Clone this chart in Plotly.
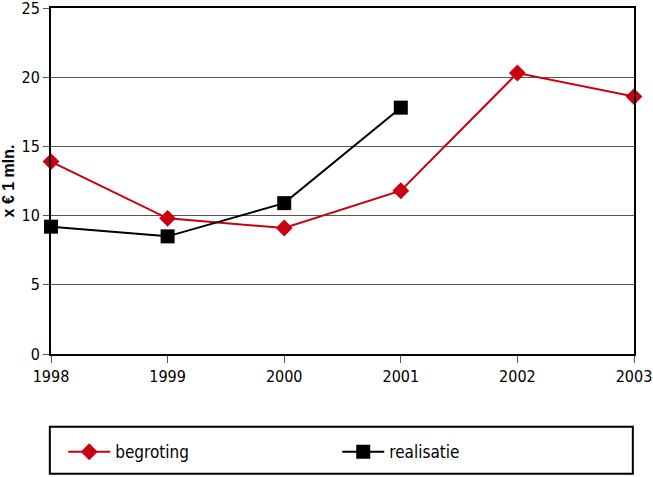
import plotly.graph_objects as go

years = [1998, 1999, 2000, 2001, 2002, 2003]
begroting = [13.9, 9.8, 9.1, 11.8, 20.3, 18.6]
real_years = [1998, 1999, 2000, 2001]
realisatie = [9.2, 8.5, 10.9, 17.8]

FONT = "DejaVu Sans Condensed, Liberation Sans Narrow, Arial, sans-serif"

fig = go.Figure()
fig.add_trace(go.Scatter(
    x=years, y=begroting, name="begroting", mode="lines+markers",
    line=dict(color="#c8000f", width=2),
    marker=dict(symbol="diamond", size=13, color="#c8000f"),
    cliponaxis=False,
))
fig.add_trace(go.Scatter(
    x=real_years, y=realisatie, name="realisatie", mode="lines+markers",
    line=dict(color="#000000", width=2),
    marker=dict(symbol="square", size=14, color="#000000"),
    cliponaxis=False,
))

fig.update_layout(
    width=653, height=477,
    margin=dict(l=51, r=19, t=8, b=122),
    paper_bgcolor="white", plot_bgcolor="white",
    font=dict(family=FONT, size=15, color="black"),
    showlegend=True,
    legend=dict(
        orientation="h", x=0.021, y=-0.28, xanchor="left", yanchor="middle",
        entrywidth=217, entrywidthmode="pixels", itemwidth=42,
        font=dict(family=FONT, size=17, color="black"),
        bgcolor="rgba(0,0,0,0)", borderwidth=0,
    ),
    shapes=[dict(
        type="rect", xref="paper", yref="paper",
        x0=-0.002, x1=0.998, y0=-0.346, y1=-0.21,
        line=dict(color="black", width=2), fillcolor="rgba(0,0,0,0)",
    )],
)

fig.update_xaxes(
    range=[1998, 2003], tickvals=years, ticktext=[str(y) for y in years],
    showgrid=False, zeroline=False, automargin=False, ticklabeloverflow="allow",
    showline=True, linecolor="black", linewidth=2, mirror=True,
    ticks="outside", ticklen=7, tickcolor="#555555", tickwidth=1,
    tickfont=dict(family=FONT, size=16),
)
fig.update_yaxes(
    range=[0, 25], dtick=5, automargin=False, ticklabeloverflow="allow",
    showgrid=True, gridcolor="#555555", gridwidth=1, zeroline=False,
    showline=True, linecolor="black", linewidth=2, mirror=True,
    ticks="outside", ticklen=6, tickcolor="#555555", tickwidth=1,
    tickfont=dict(family=FONT, size=16),
    title=dict(text="<b>x € 1 mln.</b>", font=dict(family="Liberation Sans, Arial, sans-serif", size=16), standoff=10),
)

fig.write_html("out.html")
